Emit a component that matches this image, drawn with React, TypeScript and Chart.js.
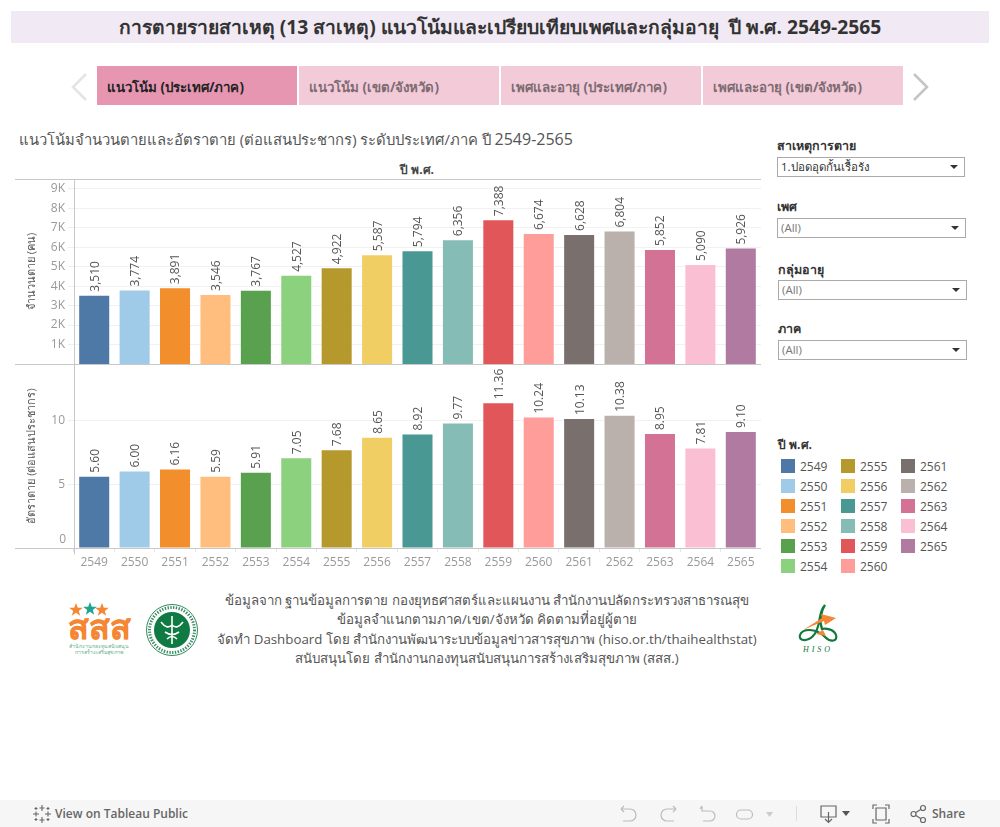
import React, { useEffect, useRef } from "react";
import { Chart, registerables } from "chart.js";

Chart.register(...registerables);

const years = ["2549","2550","2551","2552","2553","2554","2555","2556","2557","2558","2559","2560","2561","2562","2563","2564","2565"];
const deaths = [3510,3774,3891,3546,3767,4527,4922,5587,5794,6356,7388,6674,6628,6804,5852,5090,5926];
const rates = [5.60,6.00,6.16,5.59,5.91,7.05,7.68,8.65,8.92,9.77,11.36,10.24,10.13,10.38,8.95,7.81,9.10];
const deathTicks = [1000,2000,3000,4000,5000,6000,7000,8000,9000];
const rateTicks = [0,5,10];
const colors = ["#4e79a7","#a0cbe8","#f28e2b","#ffbe7d","#59a14f","#8cd17d","#b6992d","#f1ce63","#499894","#86bcb6","#e15759","#ff9d9a","#79706e","#bab0ac","#d37295","#fabfd2","#b07aa1"];
const tabs = ["แนวโน้ม (ประเทศ/ภาค)","แนวโน้ม (เขต/จังหวัด)","เพศและอายุ (ประเทศ/ภาค)","เพศและอายุ (เขต/จังหวัด)"];
const footerLines = [
  "ข้อมูลจาก ฐานข้อมูลการตาย กองยุทธศาสตร์และแผนงาน สำนักงานปลัดกระทรวงสาธารณสุข",
  "ข้อมูลจำแนกตามภาค/เขต/จังหวัด คิดตามที่อยู่ผู้ตาย",
  "จัดทำ Dashboard โดย สำนักงานพัฒนาระบบข้อมูลข่าวสารสุขภาพ (hiso.or.th/thaihealthstat)",
  "สนับสนุนโดย สำนักงานกองทุนสนับสนุนการสร้างเสริมสุขภาพ (สสส.)",
];
const filters = [
  { label: "สาเหตุการตาย", value: "1.ปอดอุดกั้นเรื้อรัง", labelTop: 137, x: 777, top: 157, w: 188, dark: true },
  { label: "เพศ", value: "(All)", labelTop: 198, x: 777, top: 218, w: 189, dark: false },
  { label: "กลุ่มอายุ", value: "(All)", labelTop: 261, x: 778, top: 280, w: 189, dark: false },
  { label: "ภาค", value: "(All)", labelTop: 320, x: 778, top: 340, w: 189, dark: false },
];

const FONT = '"Open Sans", "Noto Sans", sans-serif';
const AXIS_W = 59;
const LINE = "#c8c8c8";

const framePlugin = (isTop: boolean) => ({
  id: "frame",
  afterDraw(chart: any) {
    const { ctx, chartArea: a } = chart;
    ctx.save();
    ctx.strokeStyle = LINE;
    ctx.lineWidth = 1;
    ctx.beginPath();
    const yb = Math.round(a.bottom) + 0.5;
    const xl = Math.round(a.left) + 0.5;
    const xr = Math.round(a.right) + 0.5;
    if (!isTop) { ctx.moveTo(0, yb); ctx.lineTo(xr, yb); }
    ctx.moveTo(xl, 0); ctx.lineTo(xl, isTop ? yb : yb + 6);
    ctx.moveTo(xr, 0); ctx.lineTo(xr, yb);
    ctx.moveTo(0, 0.5); ctx.lineTo(xr, 0.5);
    ctx.stroke();
    ctx.restore();
  },
});

const labelPlugin = (fmt: (v: number) => string) => ({
  id: "barLabels",
  afterDatasetsDraw(chart: any) {
    const { ctx } = chart;
    const meta = chart.getDatasetMeta(0);
    const values = chart.data.datasets[0].data as number[];
    ctx.save();
    ctx.fillStyle = "#555";
    ctx.font = `12px ${FONT}`;
    ctx.textAlign = "left";
    ctx.textBaseline = "middle";
    meta.data.forEach((bar: any, i: number) => {
      ctx.save();
      ctx.translate(bar.x + 1, bar.y - 4);
      ctx.rotate(-Math.PI / 2);
      ctx.fillText(fmt(values[i]), 0, 0);
      ctx.restore();
    });
    ctx.restore();
  },
});

const zeroLabelPlugin = {
  id: "zeroLabel",
  afterDraw(chart: any) {
    const { ctx, scales } = chart;
    ctx.save();
    ctx.fillStyle = "#999";
    ctx.font = `12px ${FONT}`;
    ctx.textAlign = "right";
    ctx.textBaseline = "middle";
    ctx.fillText("0", scales.y.left + AXIS_W - 8, scales.y.getPixelForValue(0) - 8);
    ctx.restore();
  },
};

function makeOptions(opts: { max: number; tickValues: number[]; title: string; showX: boolean; fmtTick: (v: number) => string }) {
  return {
    responsive: false,
    animation: false as const,
    maintainAspectRatio: false,
    layout: { padding: 0 },
    plugins: { legend: { display: false }, tooltip: { enabled: false } },
    scales: {
      x: {
        display: opts.showX,
        grid: { display: true, drawOnChartArea: false, offset: true, tickLength: 4, tickColor: "#e6e6e6" },
        border: { display: false },
        ticks: { color: "#999", font: { family: FONT, size: 12 }, padding: 3, maxRotation: 0, autoSkip: false },
        afterFit(s: any) {
          s.height = opts.showX ? 27 : 0;
          s.paddingLeft = 0;
          s.paddingRight = 0;
        },
      },
      y: {
        min: 0,
        max: opts.max,
        grid: { color: "#f1f1f1", tickColor: "#eeeeee", tickLength: 6 },
        border: { display: false },
        title: { display: true, text: opts.title, color: "#555", font: { family: FONT, size: 11 }, padding: { top: 10, bottom: 0 } },
        afterBuildTicks(s: any) {
          s.ticks = opts.tickValues.map((value) => ({ value }));
        },
        ticks: {
          color: "#999",
          padding: 3,
          font: { family: FONT, size: 12 },
          callback: (v: number) => opts.fmtTick(v),
        },
        afterFit(s: any) {
          s.width = AXIS_W;
          s.paddingTop = 0;
          s.paddingBottom = 0;
        },
      },
    },
  };
}

function Bars(props: { values: number[]; tickValues: number[]; label: string; max: number; title: string; showX: boolean; isTop: boolean; fmtTick: (v: number) => string; fmtLabel: (v: number) => string; x: number; y: number; w: number; h: number }) {
  const ref = useRef<HTMLCanvasElement>(null);
  useEffect(() => {
    const plugins: any[] = [framePlugin(props.isTop), labelPlugin(props.fmtLabel)];
    if (!props.isTop) plugins.push(zeroLabelPlugin);
    const chart = new Chart(ref.current!, {
      type: "bar",
      data: {
        labels: years,
        datasets: [{ label: props.label, data: props.values, backgroundColor: colors, barPercentage: 0.743, categoryPercentage: 1 }],
      },
      options: makeOptions(props) as any,
      plugins,
    });
    return () => chart.destroy();
  }, []);
  return <canvas ref={ref} width={props.w} height={props.h} style={{ position: "absolute", left: props.x, top: props.y, width: props.w, height: props.h }} />;
}

const abs = (left: number, top: number, extra: React.CSSProperties = {}): React.CSSProperties => ({ position: "absolute", left, top, whiteSpace: "nowrap", ...extra });
const STAR = "0,-7 1.8,-2.2 6.8,-2.2 2.8,0.9 4.2,5.7 0,2.8 -4.2,5.7 -2.8,0.9 -6.8,-2.2 -1.8,-2.2";

function Logos() {
  return (
    <>
      <svg style={abs(66, 600)} width={68} height={58} viewBox="0 0 68 58">
        <polygon points={STAR} transform="translate(10 10)" fill="#f58634" />
        <polygon points={STAR} transform="translate(24 9)" fill="#1fa58f" />
        <polygon points={STAR} transform="translate(36 10)" fill="#f58634" />
        <text x="33" y="39" textAnchor="middle" fontFamily={FONT} fontWeight={700} fontSize={34} fill="#f58634" stroke="#f58634" strokeWidth="0.4">สสส</text>
        <text x="33" y="47.5" textAnchor="middle" fontFamily={FONT} fontSize={5.2} fill="#5bb08a">สำนักงานกองทุนสนับสนุน</text>
        <text x="33" y="54" textAnchor="middle" fontFamily={FONT} fontSize={5.2} fill="#5bb08a">การสร้างเสริมสุขภาพ</text>
      </svg>
      <svg style={abs(145, 603)} width={54} height={54} viewBox="0 0 54 54">
        <circle cx="27" cy="27" r="25.5" fill="#fff" stroke="#2f8a5c" strokeWidth="1" />
        <circle cx="27" cy="27" r="22.5" fill="none" stroke="#3d8f66" strokeWidth="3" strokeDasharray="1.4 1.4" />
        <circle cx="27" cy="27" r="18" fill="#0f7a42" />
        <path d="M27 13 V41 M16 19 Q22 27 27 22 Q32 27 38 19 M20 29 Q27 34 34 29 M22 36 Q27 31 32 36" stroke="#fff" strokeWidth="1.6" fill="none" />
      </svg>
      <svg style={abs(795, 603)} width={46} height={52} viewBox="0 0 46 52">
        <path d="M30 2 C22 10 27 24 18 33 C12 39 3 38 5 32 C7 26 20 24 30 34 C36 40 43 38 41 32 C39 26 30 25 27 26 C24 18 26 8 30 2 Z" fill="none" stroke="#0f7a3c" strokeWidth="2.2" />
        <polygon points="8,27 27,15 26,11 41,15 30,22 29,18" fill="#f58634" />
        <polygon points="21,31 28,27 31,33" fill="#f58634" />
        <text x="23" y="49" textAnchor="middle" fontFamily="Liberation Serif" fontStyle="italic" fontSize={8} letterSpacing={3} fill="#0f7a3c">HISO</text>
      </svg>
    </>
  );
}

function Toolbar() {
  const s = { fill: "none", stroke: "#bbb", strokeWidth: 1.2 };
  const d = { fill: "none", stroke: "#666", strokeWidth: 1.2 };
  return (
    <div style={{ position: "absolute", left: 0, top: 800, width: 1000, height: 27, background: "#f6f6f6" }}>
      <svg style={abs(32, 4)} width={20} height={20} viewBox="0 0 20 20">
        <path d="M10 1V7M7.5 4H12.5M10 13V19M7.5 16H12.5M1 10H7M4 7.5V12.5M13 10H19M16 7.5V12.5M4 3V6M2.5 4.5H5.5M16 3V6M14.5 4.5H17.5M4 14V17M2.5 15.5H5.5M16 14V17M14.5 15.5H17.5" stroke="#666" strokeWidth="1.1" fill="none" />
      </svg>
      <div style={abs(55, 5, { fontFamily: FONT, fontSize: 12, fontWeight: 600, color: "#666", lineHeight: "17px" })}>View on Tableau Public</div>
      <svg style={abs(615, 3)} width={170} height={22} viewBox="0 0 170 22">
        <path d="M6 6H15A6 6 0 0 1 15 18H8M6 6L9 3M6 6L9 9" {...s} />
        <path d="M61 6H52A6 6 0 0 0 52 18H59M61 6L58 3M61 6L58 9" {...s} />
        <path d="M87 3V8H95A5 5 0 0 1 95 18H88M87 3L85 6" {...s} />
        <path d="M126 7H133A4.5 4.5 0 0 1 133 16H126A4.5 4.5 0 0 1 126 7Z" {...s} />
        <polygon points="151,9 158,9 154.5,14" fill="#ccc" />
      </svg>
      <div style={{ position: "absolute", left: 796, top: 6, width: 1, height: 15, background: "#ddd" }} />
      <svg style={abs(818, 3)} width={36} height={22} viewBox="0 0 36 22">
        <path d="M3 3H18V14H3Z M10.5 9V19M7 16L10.5 19.5L14 16" {...d} />
        <polygon points="24,8 32,8 28,13" fill="#555" />
      </svg>
      <svg style={abs(871, 3)} width={20} height={22} viewBox="0 0 20 22">
        <path d="M5 5H15V17H5Z M2 6V2H6 M14 2H18V6 M18 16V20H14 M6 20H2V16" {...d} />
      </svg>
      <svg style={abs(909, 3)} width={20} height={22} viewBox="0 0 20 22">
        <circle cx="4.5" cy="11" r="2.5" {...d} />
        <circle cx="14" cy="5" r="2.5" {...d} />
        <circle cx="14" cy="17" r="2.5" {...d} />
        <path d="M6.5 9.7L12 6.3M6.5 12.3L12 15.7" {...d} />
      </svg>
      <div style={abs(932, 5, { fontFamily: FONT, fontSize: 12, fontWeight: 600, color: "#666", lineHeight: "17px" })}>Share</div>
    </div>
  );
}

export default function App() {
  return (
    <div style={{ position: "absolute", left: 0, top: 0, width: 1000, height: 827, background: "#fff", overflow: "hidden", fontFamily: FONT }}>
      <div style={{ position: "absolute", left: 11, top: 11, width: 978, height: 32, background: "#f1e9f3", textAlign: "center", fontSize: 19.3, fontWeight: 700, color: "#333", lineHeight: "32px" }}>
        การตายรายสาเหตุ (13 สาเหตุ) แนวโน้มและเปรียบเทียบเพศและกลุ่มอายุ{"\u00a0 "}ปี พ.ศ. 2549-2565
      </div>

      <svg style={abs(70, 72)} width={18} height={30} viewBox="0 0 18 30"><path d="M16 2L3 15L16 28" fill="none" stroke="#e4e4e4" strokeWidth="2.5" /></svg>
      <svg style={abs(912, 72)} width={18} height={30} viewBox="0 0 18 30"><path d="M2 2L15 15L2 28" fill="none" stroke="#c4c4c4" strokeWidth="2.5" /></svg>
      {tabs.map((t, i) => (
        <div key={t} style={{ position: "absolute", left: 97 + i * 202, top: 66, width: 200, height: 39, background: i === 0 ? "#e796b2" : "#f2cad8", color: i === 0 ? "#222" : "#7d6a72", fontWeight: 700, fontSize: 13.3, lineHeight: "43px", paddingLeft: 10, boxSizing: "border-box", whiteSpace: "nowrap" }}>{t}</div>
      ))}

      <div style={abs(19, 127, { fontSize: 14.8, color: "#555", lineHeight: "24px" })}>แนวโน้มจำนวนตายและอัตราตาย (ต่อแสนประชากร) ระดับประเทศ/ภาค ปี <span style={{ fontSize: 16 }}>2549-2565</span></div>
      <div style={{ position: "absolute", left: 74, width: 686, top: 161, textAlign: "center", fontSize: 12, fontWeight: 700, color: "#444", lineHeight: "18px" }}>ปี พ.ศ.</div>

      <Bars values={deaths} tickValues={deathTicks} label="จำนวนตาย" max={9500} title="จำนวนตาย (คน)" showX={false} isTop fmtTick={(v) => `${v / 1000}K`} fmtLabel={(v) => v.toLocaleString("en-US")} x={15} y={179} w={746} h={185} />
      <Bars values={rates} tickValues={rateTicks} label="อัตราตาย" max={14.45} title="อัตราตาย (ต่อแสนประชากร)" showX isTop={false} fmtTick={(v) => (v === 0 ? "" : `${v}`)} fmtLabel={(v) => v.toFixed(2)} x={15} y={364} w={746} h={211} />

      {filters.map((f) => (
        <React.Fragment key={f.label}>
          <div style={abs(f.x, f.labelTop, { fontSize: 12.5, fontWeight: 700, color: "#333", lineHeight: "18px" })}>{f.label}</div>
          <div style={{ position: "absolute", left: f.x, top: f.top, width: f.w, height: 20, boxSizing: "border-box", border: "1px solid #aaa", background: "#fff", fontSize: 11.5, paddingLeft: 3, lineHeight: "18px", color: f.dark ? "#333" : "#777" }}>
            {f.value}
            <svg style={{ position: "absolute", right: 6, top: 6 }} width={8} height={6} viewBox="0 0 8 6"><polygon points="0,1 8,1 4,5" fill="#333" /></svg>
          </div>
        </React.Fragment>
      ))}

      <div style={abs(778, 436, { fontSize: 12, fontWeight: 700, color: "#333", lineHeight: "18px" })}>ปี พ.ศ.</div>
      {years.map((y, i) => {
        const col = Math.floor(i / 6);
        const row = i % 6;
        return (
          <React.Fragment key={y}>
            <div style={{ position: "absolute", left: 781 + col * 60, top: 459 + row * 20, width: 14, height: 14, background: colors[i] }} />
            <div style={abs(800 + col * 60, 459 + row * 20, { fontSize: 12, color: "#555", lineHeight: "16px" })}>{y}</div>
          </React.Fragment>
        );
      })}

      <Logos />
      {footerLines.map((l, i) => (
        <div key={l} style={{ position: "absolute", left: 187, width: 600, top: 591 + [0, 19, 39, 58][i], textAlign: "center", fontSize: 13.3, color: "#555", lineHeight: "19px", whiteSpace: "nowrap" }}>{l}</div>
      ))}
      <Toolbar />
    </div>
  );
}
